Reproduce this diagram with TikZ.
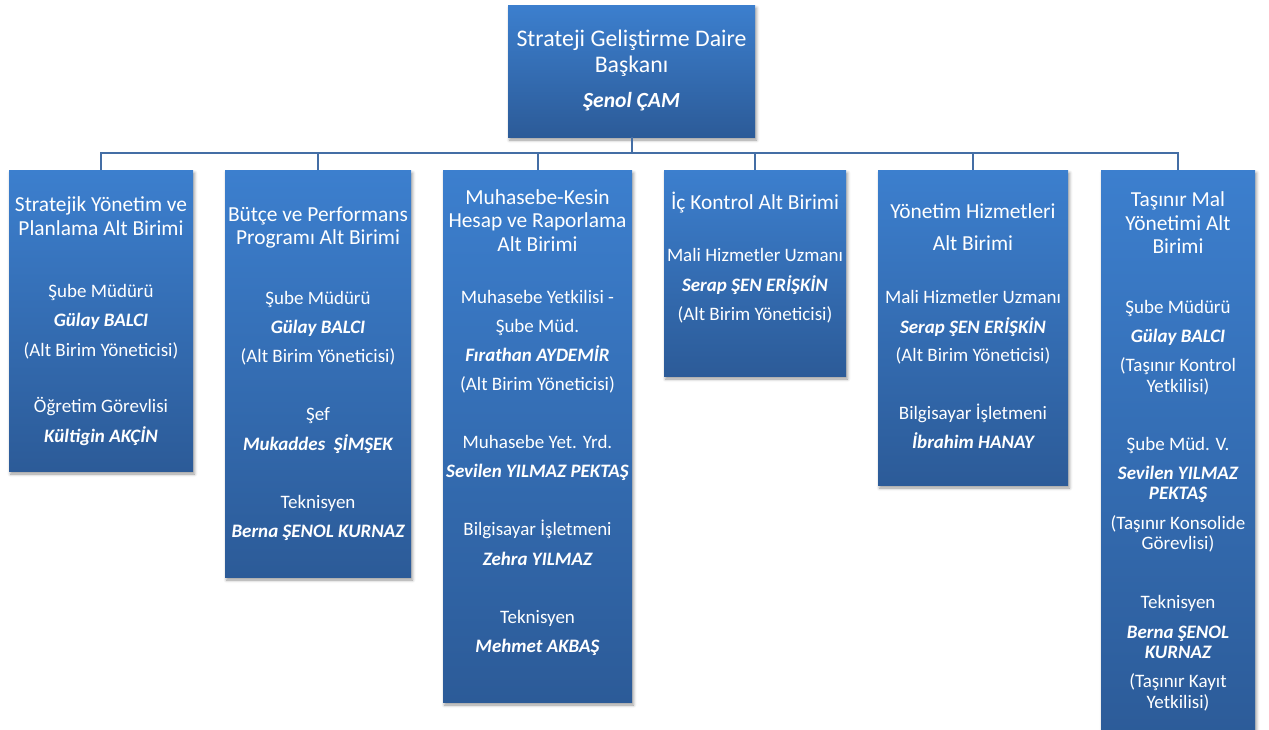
\documentclass[tikz,border=0pt]{standalone}
\usepackage{fontspec}
\setmainfont{Carlito}
\usetikzlibrary{shadows.blur}
\definecolor{unittop}{RGB}{60,127,206}
\definecolor{unitbot}{RGB}{44,91,152}
\definecolor{orgline}{RGB}{68,110,165}
\newcommand{\unitbox}[3]{\vbox to #2pt{\hsize=#1pt\relax\baselineskip=0pt\lineskip=0pt\lineskiplimit=-\maxdimen\hbox{}#3\vss}}
\newcommand{\unitrow}[3]{\vskip#1pt\hbox to\hsize{\hss{#2#3}\hss}}
\newcommand{\uhead}[2]{\unitrow{#1}{\fontsize{23.8}{0}\selectfont}{#2}}
\newcommand{\uboss}[2]{\unitrow{#1}{\fontsize{21.6}{0}\selectfont\bfseries\itshape}{#2}}
\newcommand{\uttl}[2]{\unitrow{#1}{\fontsize{21.4}{0}\selectfont}{#2}}
\newcommand{\utxt}[2]{\unitrow{#1}{\fontsize{19}{0}\selectfont}{#2}}
\newcommand{\uname}[2]{\unitrow{#1}{\fontsize{19}{0}\selectfont\bfseries\itshape}{#2}}
\tikzset{
unit/.style={anchor=north,inner sep=0pt,outer sep=0pt,text=white,
  top color=unittop,bottom color=unitbot,
  blur shadow={shadow xshift=1.5pt,shadow yshift=-3pt,shadow blur radius=3pt,shadow opacity=40}},
conn/.style={draw=orgline,line width=2pt}
}
\begin{document}
\begin{tikzpicture}[x=1pt,y=-1pt]
\useasboundingbox (0,0) rectangle (1269,729);
\draw (631.5,5) node[unit] (top) {\unitbox{247}{132}{%
\uhead{41.7}{Strateji Geliştirme Daire}
\uhead{25.7}{Başkanı}
\uboss{34.6}{Şenol ÇAM}}};
\draw (101,170) node[unit] (b1) {\unitbox{184}{301}{%
\uttl{41}{Stratejik Yönetim ve}
\uttl{24}{Planlama Alt Birimi}
\utxt{62}{Şube Müdürü}
\uname{29.5}{Gülay BALCI}
\utxt{29.5}{(Alt Birim Yöneticisi)}
\utxt{56.5}{Öğretim Görevlisi}
\uname{29.5}{Kültigin AKÇİN}}};
\draw (318,170) node[unit] (b2) {\unitbox{186}{407}{%
\uttl{51}{Bütçe ve Performans}
\uttl{23.5}{Programı Alt Birimi}
\utxt{59.5}{Şube Müdürü}
\uname{29.3}{Gülay BALCI}
\utxt{29}{(Alt Birim Yöneticisi)}
\utxt{58}{Şef}
\uname{30}{Mukaddes\ \ ŞİMŞEK}
\utxt{58}{Teknisyen}
\uname{29.5}{Berna ŞENOL KURNAZ}}};
\draw (537.5,170) node[unit] (b3) {\unitbox{189}{532}{%
\uttl{34}{Muhasebe-Kesin}
\uttl{23.5}{Hesap ve Raporlama}
\uttl{23.5}{Alt Birimi}
\utxt{52.5}{Muhasebe Yetkilisi -}
\utxt{28.7}{Şube Müd.}
\uname{29.3}{Fırathan AYDEMİR}
\utxt{29}{(Alt Birim Yöneticisi)}
\utxt{58}{Muhasebe Yet. Yrd.}
\uname{28.6}{Sevilen YILMAZ PEKTAŞ}
\utxt{58.3}{Bilgisayar İşletmeni}
\uname{29.7}{Zehra YILMAZ}
\utxt{58.2}{Teknisyen}
\uname{29.3}{Mehmet AKBAŞ}}};
\draw (755,170) node[unit] (b4) {\unitbox{182}{206}{%
\uttl{39.4}{İç Kontrol Alt Birimi}
\utxt{52}{Mali Hizmetler Uzmanı}
\uname{30.4}{Serap ŞEN ERİŞKİN}
\utxt{28.2}{(Alt Birim Yöneticisi)}}};
\draw (973,170) node[unit] (b5) {\unitbox{190}{315}{%
\uttl{48.6}{Yönetim Hizmetleri}
\uttl{31.9}{Alt Birimi}
\utxt{52.9}{Mali Hizmetler Uzmanı}
\uname{29.7}{Serap ŞEN ERİŞKİN}
\utxt{28.4}{(Alt Birim Yöneticisi)}
\utxt{58}{Bilgisayar İşletmeni}
\uname{29}{İbrahim HANAY}}};
\draw (1178,170) node[unit] (b6) {\unitbox{154}{572}{%
\uttl{36}{Taşınır Mal}
\uttl{24}{Yönetimi Alt}
\uttl{23}{Birimi}
\utxt{60}{Şube Müdürü}
\uname{29}{Gülay BALCI}
\utxt{29.4}{(Taşınır Kontrol}
\utxt{20.7}{Yetkilisi)}
\utxt{58.8}{Şube Müd. V.}
\uname{28.3}{Sevilen YILMAZ}
\uname{20.3}{PEKTAŞ}
\utxt{29.8}{(Taşınır Konsolide}
\utxt{20.6}{Görevlisi)}
\utxt{58.1}{Teknisyen}
\uname{30.1}{Berna ŞENOL}
\uname{19.9}{KURNAZ}
\utxt{29.8}{(Taşınır Kayıt}
\utxt{20.7}{Yetkilisi)}}};
\draw (631.5,153) node[inner sep=0,outer sep=0] (bus) {};
\foreach \n in {1,...,6}
  \draw[conn] (top.south) -- (bus.center) -| (b\n.north);
\end{tikzpicture}
\end{document}
